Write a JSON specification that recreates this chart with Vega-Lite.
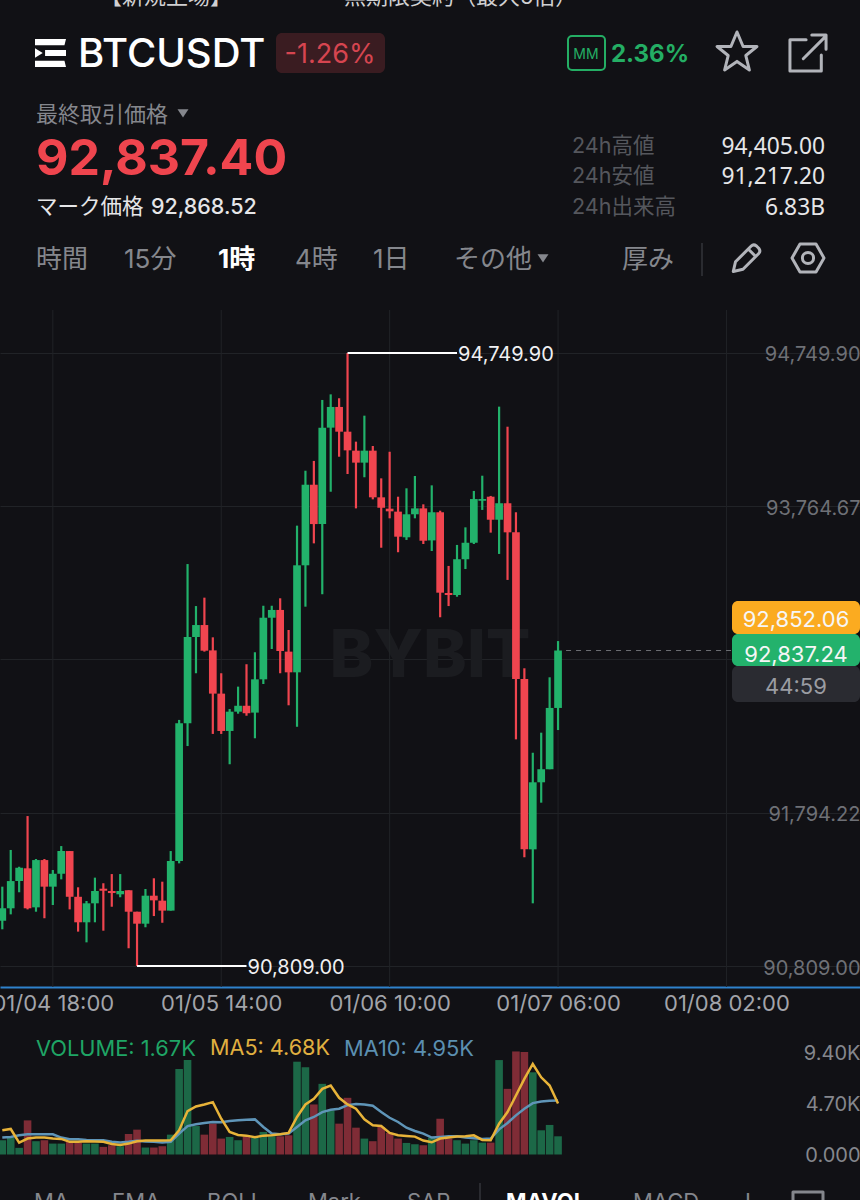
{
"$schema":"https://vega.github.io/schema/vega-lite/v6.json",
"width":860,"height":1200,"padding":0,"autosize":{"type":"none"},"background":"#111115",
"config":{"font":"Inter, 'Noto Sans CJK JP', sans-serif","view":{"stroke":null},"style":{"cell":{"stroke":null}}},
"datasets":{
"candles":[
{"t":"2026-01-04T12:00:00Z","o":91100,"h":91319,"l":91045,"c":91180,"v":1.31,"ma5":2.22,"ma10":1.55},
{"t":"2026-01-04T13:00:00Z","o":91180,"h":91555,"l":91141,"c":91355,"v":1.52,"ma5":2.34,"ma10":1.61},
{"t":"2026-01-04T14:00:00Z","o":91355,"h":91447,"l":91283,"c":91441,"v":0.61,"ma5":1.09,"ma10":1.76},
{"t":"2026-01-04T15:00:00Z","o":91437,"h":91773,"l":91173,"c":91180,"v":3.13,"ma5":1.46,"ma10":1.85},
{"t":"2026-01-04T16:00:00Z","o":91186,"h":91497,"l":91158,"c":91490,"v":1.22,"ma5":1.55,"ma10":1.85},
{"t":"2026-01-04T17:00:00Z","o":91490,"h":91497,"l":91116,"c":91319,"v":1.31,"ma5":1.55,"ma10":1.85},
{"t":"2026-01-04T18:00:00Z","o":91319,"h":91426,"l":91201,"c":91402,"v":1.0,"ma5":1.46,"ma10":1.85},
{"t":"2026-01-04T19:00:00Z","o":91402,"h":91580,"l":91366,"c":91548,"v":1.0,"ma5":1.43,"ma10":1.55},
{"t":"2026-01-04T20:00:00Z","o":91548,"h":91548,"l":91173,"c":91254,"v":1.22,"ma5":1.16,"ma10":1.4},
{"t":"2026-01-04T21:00:00Z","o":91254,"h":91315,"l":91030,"c":91090,"v":1.06,"ma5":1.16,"ma10":1.4},
{"t":"2026-01-04T22:00:00Z","o":91090,"h":91227,"l":90961,"c":91212,"v":1.0,"ma5":1.22,"ma10":1.34},
{"t":"2026-01-04T23:00:00Z","o":91212,"h":91377,"l":91090,"c":91291,"v":1.0,"ma5":1.19,"ma10":1.31},
{"t":"2026-01-05T00:00:00Z","o":91306,"h":91341,"l":91036,"c":91293,"v":0.7,"ma5":1.16,"ma10":1.31},
{"t":"2026-01-05T01:00:00Z","o":91291,"h":91400,"l":91190,"c":91278,"v":0.85,"ma5":0.97,"ma10":1.16},
{"t":"2026-01-05T02:00:00Z","o":91270,"h":91400,"l":91251,"c":91291,"v":0.76,"ma5":0.88,"ma10":1.09},
{"t":"2026-01-05T03:00:00Z","o":91296,"h":91296,"l":90923,"c":91158,"v":1.88,"ma5":1.0,"ma10":1.16},
{"t":"2026-01-05T04:00:00Z","o":91158,"h":91158,"l":90809,"c":91081,"v":2.28,"ma5":1.22,"ma10":1.25},
{"t":"2026-01-05T05:00:00Z","o":91081,"h":91304,"l":91058,"c":91261,"v":0.64,"ma5":1.28,"ma10":1.19},
{"t":"2026-01-05T06:00:00Z","o":91261,"h":91373,"l":91130,"c":91231,"v":0.64,"ma5":1.28,"ma10":1.16},
{"t":"2026-01-05T07:00:00Z","o":91229,"h":91351,"l":91087,"c":91165,"v":0.76,"ma5":1.28,"ma10":1.09},
{"t":"2026-01-05T08:00:00Z","o":91165,"h":91548,"l":91165,"c":91484,"v":1.82,"ma5":1.31,"ma10":1.16},
{"t":"2026-01-05T09:00:00Z","o":91484,"h":92391,"l":91469,"c":92369,"v":7.84,"ma5":2.22,"ma10":1.92},
{"t":"2026-01-05T10:00:00Z","o":92369,"h":93393,"l":92223,"c":92924,"v":8.66,"ma5":3.98,"ma10":2.61},
{"t":"2026-01-05T11:00:00Z","o":92924,"h":93123,"l":92691,"c":93001,"v":2.61,"ma5":4.41,"ma10":2.77},
{"t":"2026-01-05T12:00:00Z","o":93001,"h":93177,"l":92830,"c":92836,"v":1.82,"ma5":4.59,"ma10":2.89},
{"t":"2026-01-05T13:00:00Z","o":92838,"h":92922,"l":92301,"c":92560,"v":2.83,"ma5":4.8,"ma10":2.98},
{"t":"2026-01-05T14:00:00Z","o":92560,"h":92691,"l":92301,"c":92320,"v":1.46,"ma5":3.28,"ma10":2.95},
{"t":"2026-01-05T15:00:00Z","o":92320,"h":92461,"l":92106,"c":92444,"v":1.61,"ma5":2.07,"ma10":3.07},
{"t":"2026-01-05T16:00:00Z","o":92444,"h":92605,"l":92431,"c":92482,"v":1.31,"ma5":1.79,"ma10":3.13},
{"t":"2026-01-05T17:00:00Z","o":92482,"h":92749,"l":92418,"c":92434,"v":1.67,"ma5":1.73,"ma10":3.19},
{"t":"2026-01-05T18:00:00Z","o":92438,"h":92826,"l":92273,"c":92652,"v":1.55,"ma5":1.58,"ma10":3.22},
{"t":"2026-01-05T19:00:00Z","o":92652,"h":93125,"l":92622,"c":93048,"v":2.07,"ma5":1.73,"ma10":2.52},
{"t":"2026-01-05T20:00:00Z","o":93048,"h":93125,"l":92847,"c":93098,"v":1.67,"ma5":1.76,"ma10":1.92},
{"t":"2026-01-05T21:00:00Z","o":93098,"h":93173,"l":92691,"c":92834,"v":1.67,"ma5":1.85,"ma10":1.85},
{"t":"2026-01-05T22:00:00Z","o":92830,"h":92969,"l":92485,"c":92697,"v":1.76,"ma5":1.98,"ma10":1.92},
{"t":"2026-01-05T23:00:00Z","o":92697,"h":93640,"l":92347,"c":93385,"v":8.51,"ma5":3.44,"ma10":2.52},
{"t":"2026-01-06T00:00:00Z","o":93385,"h":93993,"l":93119,"c":93903,"v":8.0,"ma5":4.59,"ma10":3.13},
{"t":"2026-01-06T01:00:00Z","o":93903,"h":94056,"l":93526,"c":93650,"v":4.59,"ma5":5.11,"ma10":3.44},
{"t":"2026-01-06T02:00:00Z","o":93650,"h":94448,"l":93199,"c":94270,"v":6.48,"ma5":6.02,"ma10":3.89},
{"t":"2026-01-06T03:00:00Z","o":94270,"h":94484,"l":93858,"c":94403,"v":4.04,"ma5":6.32,"ma10":4.1},
{"t":"2026-01-06T04:00:00Z","o":94403,"h":94459,"l":94083,"c":94244,"v":2.83,"ma5":5.2,"ma10":4.2},
{"t":"2026-01-06T05:00:00Z","o":94244,"h":94749.9,"l":93972,"c":94124,"v":5.2,"ma5":4.59,"ma10":4.53},
{"t":"2026-01-06T06:00:00Z","o":94122,"h":94180,"l":93751,"c":94045,"v":2.46,"ma5":4.2,"ma10":4.62},
{"t":"2026-01-06T07:00:00Z","o":94045,"h":94347,"l":93951,"c":94122,"v":1.46,"ma5":3.22,"ma10":4.59},
{"t":"2026-01-06T08:00:00Z","o":94122,"h":94152,"l":93809,"c":93822,"v":1.22,"ma5":2.68,"ma10":4.47},
{"t":"2026-01-06T09:00:00Z","o":93822,"h":93944,"l":93498,"c":93755,"v":2.52,"ma5":2.61,"ma10":3.89},
{"t":"2026-01-06T10:00:00Z","o":93749,"h":94115,"l":93687,"c":93732,"v":1.98,"ma5":1.98,"ma10":3.37},
{"t":"2026-01-06T11:00:00Z","o":93730,"h":93826,"l":93469,"c":93569,"v":1.46,"ma5":1.76,"ma10":2.98},
{"t":"2026-01-06T12:00:00Z","o":93565,"h":93880,"l":93548,"c":93713,"v":1.06,"ma5":1.7,"ma10":2.46},
{"t":"2026-01-06T13:00:00Z","o":93713,"h":93959,"l":93687,"c":93751,"v":0.94,"ma5":1.64,"ma10":2.16},
{"t":"2026-01-06T14:00:00Z","o":93751,"h":93777,"l":93522,"c":93543,"v":0.85,"ma5":1.28,"ma10":1.92},
{"t":"2026-01-06T15:00:00Z","o":93545,"h":93899,"l":93477,"c":93726,"v":1.55,"ma5":1.12,"ma10":1.55},
{"t":"2026-01-06T16:00:00Z","o":93726,"h":93736,"l":93051,"c":93209,"v":3.28,"ma5":1.46,"ma10":1.61},
{"t":"2026-01-06T17:00:00Z","o":93207,"h":93381,"l":93123,"c":93194,"v":1.46,"ma5":1.55,"ma10":1.67},
{"t":"2026-01-06T18:00:00Z","o":93194,"h":93516,"l":93183,"c":93424,"v":1.31,"ma5":1.64,"ma10":1.67},
{"t":"2026-01-06T19:00:00Z","o":93424,"h":93629,"l":93361,"c":93530,"v":1.0,"ma5":1.67,"ma10":1.55},
{"t":"2026-01-06T20:00:00Z","o":93530,"h":93863,"l":93522,"c":93811,"v":1.31,"ma5":1.76,"ma10":1.49},
{"t":"2026-01-06T21:00:00Z","o":93800,"h":93961,"l":93741,"c":93811,"v":1.09,"ma5":1.34,"ma10":1.43},
{"t":"2026-01-06T22:00:00Z","o":93826,"h":93831,"l":93595,"c":93678,"v":1.09,"ma5":1.31,"ma10":1.46},
{"t":"2026-01-06T23:00:00Z","o":93678,"h":94405,"l":93458,"c":93784,"v":8.66,"ma5":2.83,"ma10":2.31},
{"t":"2026-01-07T00:00:00Z","o":93784,"h":94276,"l":93291,"c":93597,"v":6.02,"ma5":3.89,"ma10":2.89},
{"t":"2026-01-07T01:00:00Z","o":93597,"h":93726,"l":92266,"c":92654,"v":9.45,"ma5":5.41,"ma10":3.59},
{"t":"2026-01-07T02:00:00Z","o":92654,"h":92723,"l":91508,"c":91559,"v":9.39,"ma5":6.93,"ma10":4.2},
{"t":"2026-01-07T03:00:00Z","o":91559,"h":92180,"l":91212,"c":91990,"v":7.54,"ma5":8.3,"ma10":4.71},
{"t":"2026-01-07T04:00:00Z","o":91990,"h":92309,"l":91859,"c":92074,"v":2.22,"ma5":7.08,"ma10":4.86},
{"t":"2026-01-07T05:00:00Z","o":92074,"h":92665,"l":92074,"c":92468,"v":2.71,"ma5":6.32,"ma10":4.92},
{"t":"2026-01-07T06:00:00Z","o":92468,"h":92898,"l":92326,"c":92837.24,"v":1.67,"ma5":4.68,"ma10":4.95}
],
"gridTimes":[
{"t":"2026-01-04T18:00:00Z","lo":90674,"hi":95026.3},
{"t":"2026-01-05T14:00:00Z","lo":90674,"hi":95026.3},
{"t":"2026-01-06T10:00:00Z","lo":90674,"hi":95026.3},
{"t":"2026-01-07T06:00:00Z","lo":90674,"hi":95026.3},
{"t":"2026-01-08T02:00:00Z","lo":90674,"hi":95026.3}
],
"notes":[
{"t":"2026-01-06T05:00:00Z","t2":"2026-01-06T18:00:00Z","p":94749.9,"label":"94,749.90"},
{"t":"2026-01-05T04:00:00Z","t2":"2026-01-05T17:00:00Z","p":90809,"label":"90,809.00"}
],
"last":[{"t":"2026-01-07T06:57:00Z","t2":"2026-01-08T02:40:00Z","p":92837.24}],
"panels":[
{"s":"pill","c":14,"c2":20,"r":2,"r2":6},
{"s":"orange","c":35,"c2":42,"r":15,"r2":17},
{"s":"dark","c":35,"c2":42,"r":20,"r2":22},
{"s":"green","c":35,"c2":42,"r":17,"r2":20}
],
"boxes":[{"s":"mmbox","c":27,"c2":30,"r":3,"r2":5}],
"dividers":[{"s":"divider","c":34,"r":12,"r2":14},{"s":"divider","c":24,"r":24,"r2":25}],
"iconsFill":[
{"s":"logo","c":4,"r":4},{"s":"caret","c":10,"r":7},{"s":"caret","c":26,"r":13},{"s":"dot","c":3,"r":1}
],
"iconsStroke":[
{"s":"star","c":36,"r":4},{"s":"ext","c":40,"r":4},{"s":"pencil","c":38,"r":13},{"s":"hex","c":40,"r":13},{"s":"expand","c":40,"r":26}
],
"textLeft":[
{"s":"top","text":"【新規上場】","c":6,"r":1},
{"s":"top","text":"無期限契約（最大5倍）","c":18,"r":1},
{"s":"muted","text":"最終取引価格","c":2,"r":7},
{"s":"marklabel","text":"マーク価格","c":2,"r":11},
{"s":"tab","text":"時間","c":2,"r":13},
{"s":"tab","text":"15分","c":8,"r":13},
{"s":"tab","text":"4時","c":15,"r":13},
{"s":"tab","text":"1日","c":19,"r":13},
{"s":"tab","text":"その他","c":23,"r":13},
{"s":"tab","text":"厚み","c":32,"r":13},
{"s":"metricKey","text":"24h高値","c":28,"r":8},
{"s":"metricKey","text":"24h安値","c":28,"r":10},
{"s":"metricKey","text":"24h出来高","c":28,"r":11},
{"s":"volLabel","text":"VOLUME: 1.67K","c":2,"r":23},
{"s":"ma5Label","text":"MA5: 4.68K","c":12,"r":23},
{"s":"ma10Label","text":"MA10: 4.95K","c":18,"r":23},
{"s":"bottom","text":"MA","c":1,"r":25},
{"s":"bottom","text":"EMA","c":7,"r":25},
{"s":"bottom","text":"BOLL","c":11,"r":25},
{"s":"bottom","text":"Mark","c":16,"r":25},
{"s":"bottom","text":"SAR","c":21,"r":25},
{"s":"bottom","text":"MACD","c":33,"r":25},
{"s":"bottom","text":"I","c":37,"r":25}
],
"textMedium":[
{"s":"symbol","text":"BTCUSDT","c":5,"r":4},
{"s":"marklabel","text":"92,868.52","c":9,"r":11}
],
"textBold":[
{"s":"funding","text":"2.36%","c":31,"r":4},
{"s":"last","text":"92,837.40","c":2,"r":9},
{"s":"tabOn","text":"1時","c":13,"r":13},
{"s":"bottomOn","text":"MAVOL","c":25,"r":25}
],
"textRight":[
{"s":"metricVal","text":"94,405.00","c":41,"r":8},
{"s":"metricVal","text":"91,217.20","c":41,"r":10},
{"s":"metricVal","text":"6.83B","c":41,"r":11}
],
"textCenter":[
{"s":"change","text":"-1.26%","c":17,"r":4},
{"s":"mm","text":"MM","c":29,"r":4},
{"s":"badge","text":"92,852.06","c":39,"r":16},
{"s":"badge","text":"92,837.24","c":39,"r":18},
{"s":"countdown","text":"44:59","c":39,"r":21}
],
"textMark":[{"s":"watermark","text":"BYBIT","c":22,"r":19}]
},
"resolve":{"scale":{"x":"independent","y":"independent","color":"independent","size":"independent","shape":"independent"}},
"layer":[
{
"encoding":{
"x":{"field":"c","type":"quantitative","axis":null,"scale":{"zero":false,"nice":false,"domain":[1,2,3,4,5,6,7,8,9,10,11,12,13,14,15,16,17,18,19,20,21,22,23,24,25,26,27,28,29,30,31,32,33,34,35,36,37,38,39,40,41,42],"range":[34,36,45,50.5,78,100,112,124,151,183,207,210,218,276,295,308,330,344,373,385,407,430,454,480,506,543,568,572,586,605,611,622,633,702,732,737,745,746,796,808,825,860]}},
"y":{"field":"r","type":"quantitative","axis":null,"scale":{"zero":false,"nice":false,"domain":[1,2,3,4,5,6,7,8,9,10,11,12,13,14,15,16,17,18,19,20,21,22,23,24,25,26],"range":[-5,33,36,53,70,73,113,145,158,175,206,243,258,276,601,618,634,653,655,666,685,702,1047,1183,1200,1207]}},
"color":{"field":"s","type":"nominal","legend":null,"scale":{
"domain":["pill","orange","green","dark","mmbox","divider","logo","caret","dot","star","ext","pencil","hex","expand","top","muted","marklabel","tab","metricKey","volLabel","ma5Label","ma10Label","bottom","symbol","funding","last","tabOn","bottomOn","metricVal","change","mm","badge","countdown","watermark"],
"range":["#3a1c21","#fbab20","#23b26c","#2a2b31","#24ae64","#33353a","#ffffff","#85878d","#e8b339","#b2b4ba","#b2b4ba","#b2b4ba","#b2b4ba","#85878d","#d0d0d2","#85878d","#e6e6e8","#85878d","#55575d","#1fa565","#e0b040","#5b8fb0","#85878d","#ffffff","#24ae64","#ef454e","#ffffff","#ffffff","#e6e6e8","#d64550","#24ae64","#f6f6f6","#9a9ca2","#1b1c20"]}}
},
"layer":[
{"data":{"name":"panels"},"mark":{"type":"rect","cornerRadius":6},"encoding":{"x2":{"field":"c2"},"y2":{"field":"r2"}}},
{"data":{"name":"boxes"},"mark":{"type":"rect","cornerRadius":4,"filled":false,"strokeWidth":2},"encoding":{"x2":{"field":"c2"},"y2":{"field":"r2"}}},
{"data":{"name":"dividers"},"mark":{"type":"rule","strokeWidth":1.5},"encoding":{"y2":{"field":"r2"}}},
{
"encoding":{"size":{"field":"s","type":"nominal","legend":null,"scale":{"type":"ordinal",
"domain":["logo","caret","dot","star","ext","pencil","hex","expand","top","muted","marklabel","tab","metricKey","volLabel","ma5Label","ma10Label","bottom","symbol","funding","last","tabOn","bottomOn","metricVal","change","mm","badge","countdown","watermark"],
"range":[961,120,100,1764,1444,900,1024,900,22,22,21.5,26,21.5,21.8,21.6,21.8,22,40,24,50,26,22,22.8,27,14,22,22,66]}},
"shape":{"field":"s","type":"nominal","legend":null,"scale":{"domain":["logo","caret","dot","star","ext","pencil","hex","expand"],"range":[
"M-1,-0.9 L1,-0.9 L0.9,-0.5 L-1,-0.5 Z M-1,-0.3 L-0.5,0 L-1,0.3 Z M-0.35,-0.2 L1,-0.2 L1,0.2 L-0.35,0.2 Z M-1,0.5 L0.9,0.5 L1,0.9 L-1,0.9 Z",
"M-1,-0.7 L1,-0.7 L0,0.8 Z",
"circle",
"M0,-1 L0.29,-0.31 L0.95,-0.31 L0.42,0.12 L0.59,0.81 L0,0.4 L-0.59,0.81 L-0.42,0.12 L-0.95,-0.31 L-0.29,-0.31 Z",
"M-0.1,-0.7 L-0.95,-0.7 L-0.95,0.95 L0.7,0.95 L0.7,0.1 M-0.25,0.3 L0.9,-0.85 M0.2,-0.95 L0.95,-0.95 L0.95,-0.2",
"M-0.85,0.9 L-0.7,0.25 L0.35,-0.8 Q0.5,-0.95 0.7,-0.8 L0.85,-0.65 Q1,-0.45 0.85,-0.3 L-0.2,0.75 Z M0.15,-0.6 L0.65,-0.1",
"M-0.5,-0.87 L0.5,-0.87 L1,0 L0.5,0.87 L-0.5,0.87 L-1,0 Z M0.35,0 A0.35,0.35 0 1 1 -0.35,0 A0.35,0.35 0 1 1 0.35,0 Z",
"M-1,1 L-1,-1 L1,-1 L1,1 M-0.45,0.6 L-0.45,-0.2 L0.3,-0.2"]}}},
"layer":[
{"data":{"name":"iconsFill"},"mark":{"type":"point","filled":true,"opacity":1}},
{"data":{"name":"iconsStroke"},"mark":{"type":"point","filled":false,"opacity":1,"strokeWidth":3,"strokeJoin":"round","strokeCap":"round"}},
{"data":{"name":"textMark"},"mark":{"type":"text","align":"center","baseline":"middle","dy":2,"fontWeight":800},"encoding":{"text":{"field":"text"},"shape":null}},
{"data":{"name":"textLeft"},"mark":{"type":"text","align":"left","baseline":"middle","dy":2},"encoding":{"text":{"field":"text"},"shape":null}},
{"data":{"name":"textMedium"},"mark":{"type":"text","align":"left","baseline":"middle","dy":2,"fontWeight":500},"encoding":{"text":{"field":"text"},"shape":null}},
{"data":{"name":"textBold"},"mark":{"type":"text","align":"left","baseline":"middle","dy":2,"fontWeight":700},"encoding":{"text":{"field":"text"},"shape":null}},
{"data":{"name":"textRight"},"mark":{"type":"text","align":"right","baseline":"middle","dy":2,"font":"Noto Sans"},"encoding":{"text":{"field":"text"},"shape":null}},
{"data":{"name":"textCenter"},"mark":{"type":"text","align":"center","baseline":"middle","dy":2},"encoding":{"text":{"field":"text"},"shape":null}}
]}
]},
{
"encoding":{"x":{"field":"t","type":"temporal","title":null,"scale":{"type":"utc","padding":0,"domain":[1767527013600,1767894696000]},
"axis":{"orient":"bottom","offset":-213,"title":null,"values":[1767549600000,1767621600000,1767693600000,1767765600000,1767837600000],"format":"%m/%d %H:%M","labelFontSize":22,"labelColor":"#a2a4aa","labelPadding":6,"labelFlush":false,"labelOverlap":false,"labelBound":false,"ticks":false,"domain":true,"domainColor":"#2f82cc","domainWidth":2,"grid":false}}},
"layer":[
{"data":{"name":"gridTimes"},"mark":{"type":"rule","strokeWidth":1,"color":"#212327"},"encoding":{
"y":{"field":"lo","type":"quantitative","scale":{"zero":false,"nice":false,"domain":[90674,95026.3],"range":[987,310]},
"axis":{"orient":"right","title":null,"values":[94749.9,93764.67,92779.44,91794.22,90809],"labelExpr":"datum.value==92779.44?'':format(datum.value,',.2f')","labelFontSize":20,"labelOffset":2,"labelColor":"#6e7076","labelAlign":"right","labelBaseline":"middle","labelPadding":0,"labelFlush":false,"labelOverlap":false,"labelBound":false,"ticks":false,"domain":false,"grid":true,"gridColor":"#212327","gridWidth":1}},
"y2":{"field":"hi"}}},
{"data":{"name":"candles"},"mark":{"type":"rule","strokeWidth":2.2},"encoding":{
"y":{"field":"l","type":"quantitative"},
"y2":{"field":"h"},
"color":{"condition":{"test":"datum.c>=datum.o","value":"#22b26b"},"value":"#f0454f"}}},
{"data":{"name":"candles"},"mark":{"type":"bar","orient":"vertical","size":7.7},"encoding":{
"y":{"field":"o","type":"quantitative"},"y2":{"field":"c"},
"color":{"condition":{"test":"datum.c>=datum.o","value":"#22b26b"},"value":"#f0454f"}}},
{"data":{"name":"last"},"mark":{"type":"rule","strokeWidth":1,"strokeDash":[5,5],"color":"#6b6d72"},"encoding":{"x2":{"field":"t2"},"y":{"field":"p","type":"quantitative"}}},
{"data":{"name":"notes"},"mark":{"type":"rule","strokeWidth":2,"color":"#ffffff"},"encoding":{"x2":{"field":"t2"},"y":{"field":"p","type":"quantitative"}}},
{"data":{"name":"notes"},"mark":{"type":"text","align":"left","baseline":"middle","dx":1,"dy":2,"fontSize":20,"color":"#f0f0f2"},"encoding":{"x":{"field":"t2","type":"temporal"},"y":{"field":"p","type":"quantitative"},"text":{"field":"label"}}}
]},
{
"data":{"name":"candles"},
"encoding":{"x":{"field":"t","type":"temporal","axis":null,"scale":{"type":"utc","padding":0,"domain":[1767527013600,1767894696000]}}},
"layer":[
{"mark":{"type":"bar","orient":"vertical","size":7.6},"encoding":{
"y":{"field":"v","type":"quantitative","scale":{"zero":false,"nice":false,"domain":[0,9.4],"range":[1154.5,1052]},
"axis":{"orient":"right","title":null,"values":[0,4.7,9.4],"labelExpr":"datum.value==0?'0.000':format(datum.value,'.2f')+'K'","labelFontSize":20,"labelOffset":1,"labelColor":"#85878d","labelAlign":"right","labelBaseline":"middle","labelPadding":0,"labelFlush":false,"labelOverlap":false,"labelBound":false,"ticks":false,"domain":false,"grid":false}},
"color":{"condition":{"test":"datum.c>=datum.o","value":"#1c6847"},"value":"#7f2c36"}}},
{"mark":{"type":"line","strokeWidth":2.5,"color":"#5f95b8"},"encoding":{"y":{"field":"ma10","type":"quantitative"}}},
{"mark":{"type":"line","strokeWidth":2.5,"color":"#e8b339"},"encoding":{"y":{"field":"ma5","type":"quantitative"}}}
]}
]
}
